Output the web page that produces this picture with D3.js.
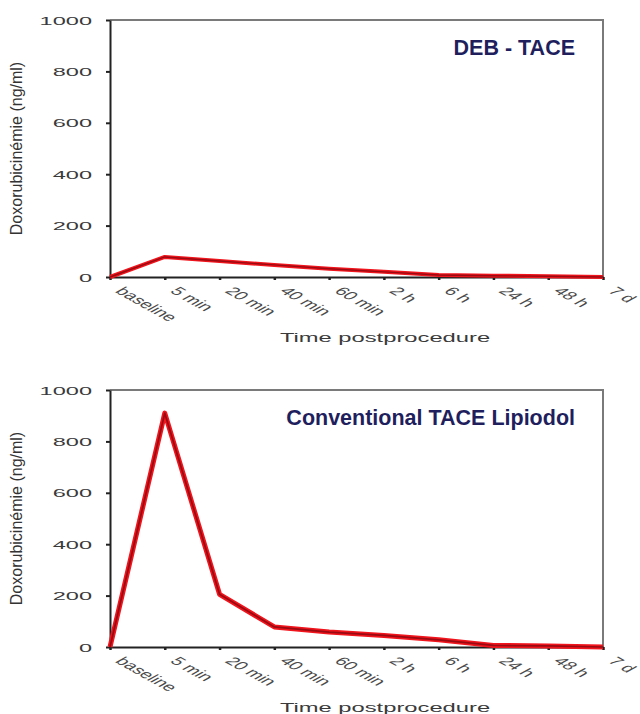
<!DOCTYPE html>
<html>
<head>
<meta charset="utf-8">
<script src="https://cdn.jsdelivr.net/npm/d3@7"></script>
<style>
  html, body { margin: 0; padding: 0; background: #fff; }
  svg { display: block; }
  text { font-family: "Liberation Sans", Arial, sans-serif; }
</style>
</head>
<body>
<svg id="chart" width="640" height="714"></svg>
<script>
// Sampling times after the procedure
const categories = ["baseline", "5 min", "20 min", "40 min", "60 min", "2 h", "6 h", "24 h", "48 h", "7 d"];

// Serum doxorubicin (ng/ml) per sampling time
const debTaceValues = [0, 78, 62, 47, 32, 20, 8, 5, 3, 0];
const conventionalValues = [0, 910, 205, 78, 58, 45, 28, 6, 4, 0];

const yTickValues = [0, 200, 400, 600, 800, 1000];

const panelTitles = ["DEB - TACE", "Conventional TACE Lipiodol"];
const yAxisTitle = "Doxorubicinémie (ng/ml)";
const xAxisTitle = "Time postprocedure";

// Layout
const svg = d3.select("#chart");
const plotLeft = 110, plotRight = 603, plotHeight = 257;
const panelTops = [20, 390];
const stretch = 1.8;   // wide lettering of the axis texts
const yStretch = 2.05; // wide lettering of the value labels

const x = d3.scalePoint().domain(categories).range([plotLeft, plotRight]);

const panels = [
  { title: panelTitles[0], values: debTaceValues, top: panelTops[0], width: 4 },
  { title: panelTitles[1], values: conventionalValues, top: panelTops[1], width: 5 }
];

panels.forEach(p => {
  const bottom = p.top + plotHeight;
  const y = d3.scaleLinear().domain([0, 1000]).range([bottom, p.top]);
  const g = svg.append("g");

  // grey frame (top and right sides)
  g.append("path")
    .attr("d", `M${plotLeft},${p.top}H${plotRight}V${bottom}`)
    .attr("fill", "none")
    .attr("stroke", "#7a7a7a")
    .attr("stroke-width", 2);

  // x axis
  const xa = g.append("g")
    .attr("transform", `translate(0,${bottom})`)
    .call(d3.axisBottom(x).tickSize(3).tickSizeOuter(0));
  xa.select(".domain").attr("stroke", "#222").attr("stroke-width", 2);
  xa.selectAll(".tick line").attr("stroke", "#222").attr("stroke-width", 2.5);
  xa.selectAll(".tick text")
    .attr("x", 0).attr("y", 0).attr("dy", "0.35em")
    .attr("text-anchor", "start")
    .attr("transform", `translate(9,12) scale(${stretch},1) rotate(45)`)
    .attr("font-size", 11.5)
    .attr("fill", "#4a4a4a");

  // y axis
  const ya = g.append("g")
    .attr("transform", `translate(${plotLeft},0)`)
    .call(d3.axisLeft(y).tickValues(yTickValues).tickFormat(d3.format("d"))
      .tickSize(4).tickSizeOuter(0));
  ya.select(".domain").attr("stroke", "#222").attr("stroke-width", 2);
  ya.selectAll(".tick line").attr("stroke", "#222").attr("stroke-width", 2);
  ya.selectAll(".tick text")
    .attr("x", 0).attr("dy", "0.35em")
    .attr("text-anchor", "end")
    .attr("transform", `translate(-18,0) scale(${yStretch},1)`)
    .attr("font-size", 11.5)
    .attr("fill", "#3a3a3a");

  // axis titles
  g.append("text")
    .attr("transform", `translate(22,${(p.top + bottom) / 2}) rotate(-90)`)
    .attr("text-anchor", "middle")
    .attr("font-size", 16)
    .attr("fill", "#333")
    .text(yAxisTitle);

  g.append("text")
    .attr("transform", `translate(385,${bottom + 65}) scale(${stretch},1)`)
    .attr("text-anchor", "middle")
    .attr("font-size", 13.2)
    .attr("fill", "#3a3a3a")
    .text(xAxisTitle);

  // concentration curve: bright red stroke with a dark core
  const line = d3.line()
    .x((d, i) => x(categories[i]))
    .y(d => y(d));
  g.append("path")
    .datum(p.values)
    .attr("d", line)
    .attr("fill", "none")
    .attr("stroke", "#f0141c")
    .attr("stroke-width", p.width)
    .attr("stroke-linejoin", "round");
  g.append("path")
    .datum(p.values)
    .attr("d", line)
    .attr("fill", "none")
    .attr("stroke", "#9a0a12")
    .attr("stroke-width", p.width * 0.35)
    .attr("stroke-linejoin", "round");

  // panel title
  g.append("text")
    .attr("x", 575)
    .attr("y", p.top + 35)
    .attr("text-anchor", "end")
    .attr("font-size", 21.5)
    .attr("font-weight", "bold")
    .attr("fill", "#1f1f5e")
    .text(p.title);
});
</script>
</body>
</html>
